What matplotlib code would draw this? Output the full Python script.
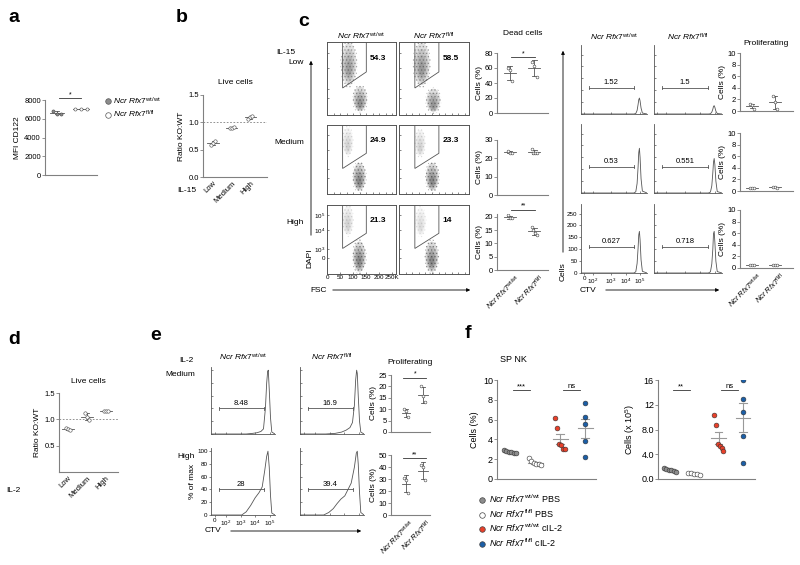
import matplotlib
matplotlib.use('Agg')
import matplotlib.pyplot as plt
import numpy as np
from matplotlib.patches import Ellipse, Polygon
from matplotlib.lines import Line2D

plt.rcParams['font.family'] = ['Liberation Sans', 'DejaVu Sans']
plt.rcParams['mathtext.fontset'] = 'custom'
plt.rcParams['mathtext.rm'] = 'Liberation Sans'
plt.rcParams['mathtext.it'] = 'Liberation Sans:italic'
plt.rcParams['mathtext.bf'] = 'Liberation Sans:bold'
plt.rcParams['hatch.linewidth'] = 0.6

W, H = 800, 565
WT = r'$\mathit{Ncr\ Rfx7}^{\mathrm{wt/wt}}$'
FL = r'$\mathit{Ncr\ Rfx7}^{\mathrm{fl/fl}}$'
GENOS = [WT, FL]

# ---- data ----
# a: MFI CD122
a_wt = [6800, 6500, 6550]
a_fl = [7000, 7000, 7000]

# b / d: live cell ratio KO:WT
levels = ['Low', 'Medium', 'High']
b_ratio = [[0.58, 0.62, 0.66], [0.89, 0.90, 0.91], [1.06, 1.09, 1.12]]
d_ratio = [[0.83, 0.81, 0.80], [1.12, 1.05, 0.98], [1.16, 1.15, 1.16]]

# c: dead cells (%)
c_rows = ['Low', 'Medium', 'High']
c_dead_wt = [[60, 57, 43], [24, 23, 23], [20.5, 19.5, 19.5]]
c_dead_fl = [[68, 63, 48], [25, 23, 23, 23], [16, 15, 14, 13]]
c_dead_top = [80, 30, 21]
c_dead_ticks = [[0, 20, 40, 60, 80], [0, 10, 20, 30], [0, 5, 10, 15, 20]]
c_dead_sig = ['*', '', '**']
c_gate_pct = [['54.3', '58.5'], ['24.9', '23.3'], ['21.3', '14']]
# flow clouds: (FSC centre K, DAPI centre, width K, height, density)
c_clouds = [
    [[(84, 0.70, 58, 0.58, 0.75), (127, 0.22, 52, 0.34, 0.9)],
     [(86, 0.70, 60, 0.58, 0.8), (130, 0.20, 52, 0.32, 0.85)]],
    [[(80, 0.76, 38, 0.40, 0.3), (124, 0.25, 48, 0.40, 1.0)],
     [(80, 0.74, 38, 0.38, 0.3), (126, 0.25, 48, 0.40, 1.0)]],
    [[(80, 0.78, 40, 0.42, 0.3), (124, 0.25, 48, 0.44, 1.0)],
     [(82, 0.76, 38, 0.40, 0.22), (124, 0.25, 48, 0.44, 1.0)]],
]

# c: proliferating (%)
c_prol_wt = [[1.2, 1.0, 0.4], [0.6, 0.6, 0.6], [0.6, 0.5, 0.5]]
c_prol_fl = [[2.6, 1.5, 0.3], [0.7, 0.7, 0.6], [0.6, 0.5, 0.5]]
c_prol_pct = [['1.52', '1.5'], ['0.53', '0.551'], ['0.627', '0.718']]
ctv_x = [0, 80, 83, 85, 86.5, 87.5, 88.5, 89.5, 91, 93, 100]
c_hist = [
    [[0, 0, 2, 15, 40, 60, 67, 55, 25, 4, 0], [0, 0, 1, 8, 20, 32, 35, 28, 12, 2, 0]],
    [[0, 0, 5, 40, 110, 170, 188, 150, 60, 8, 0], [0, 0, 4, 30, 85, 130, 145, 120, 50, 6, 0]],
    [[0, 0, 5, 40, 105, 160, 175, 140, 55, 7, 0], [0, 0, 5, 38, 100, 165, 175, 130, 50, 6, 0]],
]

# e: IL-2 proliferation
e_rows = ['Medium', 'High']
e_hist_x = [
    [[0, 55, 65, 72, 78, 82, 85, 87, 88.5, 89.5, 91, 93, 95, 100],
     [0, 40, 55, 65, 72, 78, 82, 85, 87, 88.5, 89.5, 91, 93, 95, 100]],
    [[0, 48, 55, 62, 69, 75, 80, 84, 87, 89, 91, 93, 95, 100],
     [0, 37, 45, 52, 58, 64, 70, 75, 80, 85, 88, 89.5, 91, 93, 95, 100]],
]
e_hist_y = [
    [[0, 0, 1, 2, 4, 8, 40, 80, 98, 100, 70, 25, 3, 0],
     [0, 0, 1, 3, 6, 10, 18, 45, 85, 100, 95, 60, 20, 3, 0]],
    [[0, 0, 5, 15, 27, 35, 44, 70, 92, 100, 75, 30, 3, 0],
     [0, 0, 4, 10, 18, 25, 30, 40, 50, 75, 97, 100, 80, 35, 4, 0]],
]
e_pct = [['8.48', '16.9'], ['28', '39.4']]
e_prol_wt = [[10, 9, 6.5], [31, 29, 18]]
e_prol_fl = [[20, 16, 13], [42, 40, 29]]
e_prol_top = [25, 50]
e_prol_ticks = [[0, 5, 10, 15, 20, 25], [0, 10, 20, 30, 40, 50]]
e_sig = ['*', '**']

# f: SP NK
f_labels = [WT + ' PBS', FL + ' PBS', WT + ' cIL-2', FL + ' cIL-2']
f_colors = ['#8c8c8c', 'white', '#e8402a', '#1b5ea6']
f_pct = [[2.9, 2.8, 2.7, 2.7, 2.6, 2.6],
         [2.1, 1.8, 1.6, 1.5, 1.5, 1.4],
         [6.2, 5.2, 3.5, 3.4, 3.0, 3.0],
         [7.7, 6.3, 5.6, 3.8, 2.2]]
f_num = [[1.8, 1.6, 1.5, 1.4, 1.3, 1.2],
         [1.0, 0.9, 0.8, 0.8, 0.7],
         [10.3, 8.8, 5.6, 5.3, 5.0, 4.5],
         [16.0, 13.0, 10.9, 7.0, 2.6]]

# ---- layout helpers ----
fig = plt.figure(figsize=(8, 5.65), dpi=100)
GREY = '#808080'


def add_ax(x0, y0, x1, y1):
    return fig.add_axes([x0 / W, 1 - y1 / H, (x1 - x0) / W, (y1 - y0) / H])


def txt(x, y, s, **kw):
    kw.setdefault('fontsize', 6)
    return fig.text(x / W, 1 - y / H, s, **kw)


def arrow(x0, y0, x1, y1):
    fig.add_artist(matplotlib.patches.FancyArrowPatch(
        (x0 / W, 1 - y0 / H), (x1 / W, 1 - y1 / H), transform=fig.transFigure,
        arrowstyle='-|>', mutation_scale=5, lw=0.6, color='black'))


def dot_axes(ax, top, ticks, fs=5.5):
    for s in ['top', 'right']:
        ax.spines[s].set_visible(False)
    for s in ['left', 'bottom']:
        ax.spines[s].set_color(GREY)
        ax.spines[s].set_linewidth(0.8)
    ax.set_ylim(0, top)
    ax.set_yticks(ticks)
    ax.tick_params(axis='y', length=2, width=0.6, color=GREY, labelsize=fs, pad=1)
    ax.tick_params(axis='x', length=0, labelsize=fs)
    ax.set_xticks([])


def offsets(n, spread):
    if n == 1:
        return [0.0]
    return list(np.linspace(-spread, spread, n))


def group(ax, xc, vals, face, s=5, spread=0.12, half=0.22, cap=0.08, lc='#555555', ew=0.4):
    xs = [xc + o for o in offsets(len(vals), spread)]
    ax.scatter(xs, vals, s=s, facecolor=face, edgecolor='#444444', linewidth=ew, zorder=3)
    m = np.mean(vals)
    sd = np.std(vals, ddof=1)
    ax.plot([xc - half, xc + half], [m, m], color=lc, lw=0.6, zorder=2)
    ax.plot([xc, xc], [m - sd, m + sd], color=lc, lw=0.6, zorder=2)
    for yy in (m - sd, m + sd):
        ax.plot([xc - cap, xc + cap], [yy, yy], color=lc, lw=0.6, zorder=2)


def sig(ax, x0, x1, y, s, fs=5):
    ax.plot([x0, x1], [y, y], color='#333333', lw=0.6, clip_on=False)
    ax.text((x0 + x1) / 2, y, s, ha='center', va='bottom', fontsize=fs)


def rot_labels(ax, pos, labels, fs=5.5):
    ax.set_xticks(pos)
    ax.set_xticklabels(labels, rotation=45, ha='right', rotation_mode='anchor', fontsize=fs)
    ax.tick_params(axis='x', length=0, pad=2)


def letter(x, y, s):
    txt(x, y, s, fontsize=14, fontweight='bold', va='center', ha='left')


# ---- a ----
letter(8, 18, 'a')
ax = add_ax(45, 100, 97, 175)
dot_axes(ax, 8000, [0, 2000, 4000, 6000, 8000])
group(ax, 0, a_wt, '#8c8c8c', spread=0.15, half=0.3)
group(ax, 1, a_fl, 'white', spread=0.25, half=0.35)
ax.set_xlim(-0.5, 1.67)
ax.set_ylabel('MFI CD122', fontsize=6, labelpad=2)
sig(ax, 0.1, 1.0, 8200, '*')
fig.legend([Line2D([], [], ls='none', marker='o', ms=4, mfc='#8c8c8c', mec='#555555', mew=0.5),
            Line2D([], [], ls='none', marker='o', ms=4, mfc='white', mec='#555555', mew=0.5)],
           [WT, FL], loc='upper left', bbox_to_anchor=(100 / W, 1 - 92 / H), frameon=False,
           fontsize=6, handletextpad=0.2, labelspacing=0.3, borderaxespad=0, handlelength=1)

# ---- b ----
letter(176, 18, 'b')
ax = add_ax(203, 95, 267, 177)
dot_axes(ax, 1.5, [0.0, 0.5, 1.0, 1.5])
ax.set_yticklabels(['0.0', '0.5', '1.0', '1.5'])
for i, vals in enumerate(b_ratio):
    group(ax, i, vals, 'white', spread=0.1, half=0.3, s=6)
ax.axhline(1.0, color=GREY, lw=0.6, ls=(0, (2, 2)))
ax.set_xlim(-0.54, 2.9)
rot_labels(ax, range(3), levels)
ax.set_ylabel('Ratio KO:WT', fontsize=6, labelpad=2)
ax.set_title('Live cells', fontsize=6, pad=8)
txt(177, 191, 'IL-15', va='center')

# ---- c: flow dot plots ----
letter(298, 22, 'c')
flow_cols = [(327, 396), (399, 469)]
flow_rows = [(42, 115), (125, 194), (205, 274)]
gate = [(60, 1.0), (60, 0.37), (151, 0.59), (151, 1.0)]
for r, (y0, y1) in enumerate(flow_rows):
    txt(304, y0 + 18 if r else 63, c_rows[r], ha='right', va='center')
    for c, (x0, x1) in enumerate(flow_cols):
        ax = add_ax(x0, y0, x1, y1)
        ax.set_xlim(0, 265)
        ax.set_ylim(0, 1)
        for sp in ax.spines.values():
            sp.set_color('#555555')
            sp.set_linewidth(0.7)
        for (cx, cy, w, h, dens) in c_clouds[r][c]:
            # stippled outer halo plus layered core
            ax.add_patch(Ellipse((cx, cy), w * 1.15, h * 1.15, facecolor='none',
                                 edgecolor=(0.45, 0.45, 0.45, 0.7 * dens), lw=0, hatch='.....'))
            for k in range(4):
                sc = 1.0 - 0.22 * k
                ax.add_patch(Ellipse((cx, cy - 0.02 * k), w * sc, h * sc, facecolor='#222222',
                                     alpha=0.17 * dens, lw=0))
        ax.add_patch(Polygon(gate, closed=False, fill=False, edgecolor='#555555', lw=0.6))
        ax.text(0.62, 0.78, c_gate_pct[r][c], transform=ax.transAxes, fontsize=6,
                fontweight='bold', va='center')
        ax.set_xticks(np.arange(0, 265, 25))
        ax.set_yticks([0.23, 0.36, 0.64, 0.855])
        ax.tick_params(direction='in', length=1.2, width=0.5, color='#555555', labelsize=4.5, pad=1)
        if r == 2 and c == 0:
            ax.set_xticks([0, 50, 100, 150, 200, 250])
            ax.set_xticklabels(['0', '50', '100', '150', '200', '250K'])
            ax.set_yticklabels(['0', r'$10^3$', r'$10^4$', r'$10^5$'])
        else:
            ax.set_xticklabels([])
            ax.set_yticklabels([])
        if r == 0:
            ax.set_title(GENOS[c], fontsize=6, pad=2)
txt(295, 52, 'IL-15', ha='right', va='center')
arrow(311, 238, 311, 58)
txt(310, 258, 'DAPI', rotation=90, ha='center', va='center')
txt(310, 290, 'FSC', va='center')
arrow(330, 290, 473, 290)

# ---- c: dead cells ----
dead_rows = [(53, 113), (140, 195), (214, 270)]
for r, (y0, y1) in enumerate(dead_rows):
    ax = add_ax(497, y0, 548, y1)
    dot_axes(ax, c_dead_top[r], c_dead_ticks[r])
    group(ax, 0, c_dead_wt[r], 'white', s=4, spread=0.08, half=0.25, cap=0.1)
    group(ax, 1, c_dead_fl[r], 'white', s=4, spread=0.1, half=0.25, cap=0.1)
    ax.set_xlim(-0.52, 1.57)
    ax.set_ylabel('Cells (%)', fontsize=6, labelpad=1)
    if c_dead_sig[r]:
        sig(ax, 0.05, 1.05, c_dead_top[r] * (0.93 if r == 0 else 1.08), c_dead_sig[r])
    if r == 0:
        ax.set_title('Dead cells', fontsize=6, pad=13)
    if r == 2:
        rot_labels(ax, [0.2, 1.2], GENOS)

# ---- c: CTV histograms ----
hist_cols = [(581, 647), (654, 722)]
hist_rows = [(45, 114), (124, 193), (204, 273)]
for r, (y0, y1) in enumerate(hist_rows):
    for c, (x0, x1) in enumerate(hist_cols):
        ax = add_ax(x0, y0, x1, y1)
        for s in ['top', 'right']:
            ax.spines[s].set_visible(False)
        for s in ['left', 'bottom']:
            ax.spines[s].set_color('#555555')
            ax.spines[s].set_linewidth(0.6)
        ax.plot(ctv_x, c_hist[r][c], color='#555555', lw=0.6)
        ax.set_xlim(0, 100)
        ax.set_ylim(0, 290)
        ax.plot([12, 80], [110, 110], color='#555555', lw=0.6)
        ax.plot([12, 12], [104, 116], color='#555555', lw=0.6)
        ax.plot([80, 80], [104, 116], color='#555555', lw=0.6)
        ax.text(46, 118, c_prol_pct[r][c], ha='center', va='bottom', fontsize=5.5)
        ax.tick_params(direction='in', length=1.2, width=0.5, color='#555555', labelsize=4.5, pad=1)
        ax.set_yticks([0, 50, 100, 150, 200, 250])
        ax.set_xticks([5, 18, 45, 68, 89])
        if r == 2 and c == 0:
            ax.set_xticklabels(['0', r'$10^2$', r'$10^3$', r'$10^4$', r'$10^5$'])
            ax.tick_params(direction='out', length=1.5)
        else:
            ax.set_xticklabels([])
            ax.set_yticklabels([])
        if r == 0:
            ax.set_title(GENOS[c], fontsize=6, pad=3)
arrow(563, 255, 563, 48)
txt(563, 272, 'Cells', rotation=90, ha='center', va='center')
txt(580, 290, 'CTV', va='center')
arrow(603, 290, 722, 290)

# ---- c: proliferating ----
prol_rows = [(53, 111), (133, 191), (210, 268)]
for r, (y0, y1) in enumerate(prol_rows):
    ax = add_ax(740, y0, 793, y1)
    dot_axes(ax, 10, [0, 2, 4, 6, 8, 10])
    group(ax, 0, c_prol_wt[r], 'white', s=4, spread=0.1, half=0.25, cap=0.1)
    group(ax, 1, c_prol_fl[r], 'white', s=4, spread=0.1, half=0.25, cap=0.1)
    ax.set_xlim(-0.52, 1.78)
    ax.set_ylabel('Cells (%)', fontsize=6, labelpad=1)
    if r == 0:
        ax.set_title('Proliferating', fontsize=6, pad=6)
    if r == 2:
        rot_labels(ax, [0.2, 1.2], GENOS)

# ---- d ----
letter(8, 340, 'd')
ax = add_ax(59, 393, 118, 472)
dot_axes(ax, 1.5, [0.5, 1.0, 1.5])
ax.set_yticklabels(['0.5', '1.0', '1.5'])
for i, vals in enumerate(d_ratio):
    group(ax, i, vals, 'white', spread=0.1, half=0.3, s=6)
ax.axhline(1.0, color=GREY, lw=0.6, ls=(0, (2, 2)))
ax.set_xlim(-0.47, 2.63)
rot_labels(ax, range(3), levels)
ax.set_ylabel('Ratio KO:WT', fontsize=6, labelpad=2)
ax.set_title('Live cells', fontsize=6, pad=7)
txt(6, 490, 'IL-2', va='center')

# ---- e ----
letter(150, 336, 'e')
txt(193, 360, 'IL-2', ha='right', va='center')
e_cols = [(211, 275), (300, 364)]
e_hrows = [(367, 434), (448, 515)]
for r, (y0, y1) in enumerate(e_hrows):
    txt(195, y0 + 8, e_rows[r], ha='right', va='center')
    for c, (x0, x1) in enumerate(e_cols):
        ax = add_ax(x0, y0, x1, y1)
        for s in ['top', 'right']:
            ax.spines[s].set_visible(False)
        for s in ['left', 'bottom']:
            ax.spines[s].set_color('#555555')
            ax.spines[s].set_linewidth(0.6)
        ax.plot(e_hist_x[r][c], e_hist_y[r][c], color='#555555', lw=0.6)
        ax.set_xlim(0, 100)
        ax.set_ylim(0, 105)
        ax.plot([12, 83], [40, 40], color='#555555', lw=0.6)
        ax.plot([12, 12], [37, 43], color='#555555', lw=0.6)
        ax.plot([83, 83], [37, 43], color='#555555', lw=0.6)
        ax.text(47, 42, e_pct[r][c], ha='center', va='bottom', fontsize=5.5)
        ax.tick_params(direction='in', length=1.2, width=0.5, color='#555555', labelsize=4.5, pad=1)
        ax.set_yticks([0, 20, 40, 60, 80, 100])
        ax.set_xticks([6, 23, 47, 69, 92])
        if r == 1 and c == 0:
            ax.set_xticklabels(['0', r'$10^2$', r'$10^3$', r'$10^4$', r'$10^5$'])
            ax.tick_params(direction='out', length=1.5)
            ax.set_ylabel('% of max', fontsize=6, labelpad=1)
        else:
            ax.set_xticklabels([])
            ax.set_yticklabels([])
        if r == 0:
            ax.set_title(GENOS[c], fontsize=6, pad=5)
txt(205, 531, 'CTV', va='center')
arrow(228, 531, 364, 531)

e_prows = [(375, 432), (455, 515)]
for r, (y0, y1) in enumerate(e_prows):
    ax = add_ax(391, y0, 430, y1)
    dot_axes(ax, e_prol_top[r], e_prol_ticks[r])
    group(ax, 0, e_prol_wt[r], 'white', s=4, spread=0.1, half=0.25, cap=0.1)
    group(ax, 1, e_prol_fl[r], 'white', s=4, spread=0.1, half=0.3, cap=0.12)
    ax.set_xlim(-0.88, 1.41)
    ax.set_ylabel('Cells (%)', fontsize=6, labelpad=1)
    sig(ax, -0.15, 1.2, e_prol_top[r] * 0.95, e_sig[r])
    if r == 0:
        ax.set_title('Proliferating', fontsize=6, pad=8)
    if r == 1:
        rot_labels(ax, [0.2, 1.2], GENOS)

# ---- f ----
letter(465, 333, 'f')
txt(500, 360, 'SP NK', fontsize=6.5, va='center')
f_axes = [((497, 380, 596, 479), f_pct, 10, [0, 2, 4, 6, 8, 10], ['0', '2', '4', '6', '8', '10'],
           'Cells (%)', ['***', 'ns'], (0.48, 4.44)),
          ((658, 380, 755, 479), f_num, 16, [0, 4, 8, 12, 16], ['0.0', '4.0', '8.0', '12', '16'],
           r'Cells (x 10$^5$)', ['**', 'ns'], (0.5, 4.5))]
f_spread = [0.25, 0.25, 0.2, 0.0]
for rect, vals, top, ticks, tlabels, ylab, sigs, xl in f_axes:
    ax = add_ax(*rect)
    dot_axes(ax, top, ticks, fs=6.5)
    ax.set_yticklabels(tlabels)
    for g, v in enumerate(vals):
        xs = [g + 1 + o for o in offsets(len(v), f_spread[g])]
        ax.scatter(xs, v, s=12, facecolor=f_colors[g], edgecolor='#333333', linewidth=0.4, zorder=3)
        m = np.mean(v)
        se = np.std(v, ddof=1) / np.sqrt(len(v))
        ax.plot([g + 0.7, g + 1.3], [m, m], color='#999999', lw=0.8, zorder=2)
        ax.plot([g + 1, g + 1], [m - se, m + se], color='#999999', lw=0.8, zorder=2)
        for yy in (m - se, m + se):
            ax.plot([g + 0.85, g + 1.15], [yy, yy], color='#999999', lw=0.8, zorder=2)
    ax.set_xlim(*xl)
    ax.set_ylabel(ylab, fontsize=6.5, labelpad=3)
    sig(ax, 1.1, 1.8, top * 0.9, sigs[0], fs=5.5)
    sig(ax, 3.1, 3.8, top * 0.9, sigs[1], fs=5.5)

handles = [Line2D([], [], ls='none', marker='o', ms=4, mfc=col, mec='#444444', mew=0.5) for col in f_colors]
fig.legend(handles, f_labels, loc='upper left', bbox_to_anchor=(474 / W, 1 - 489 / H), frameon=False,
           fontsize=6.5, handletextpad=0.3, labelspacing=0.25, borderaxespad=0, handlelength=1)

fig.savefig('out.png', dpi=100)
